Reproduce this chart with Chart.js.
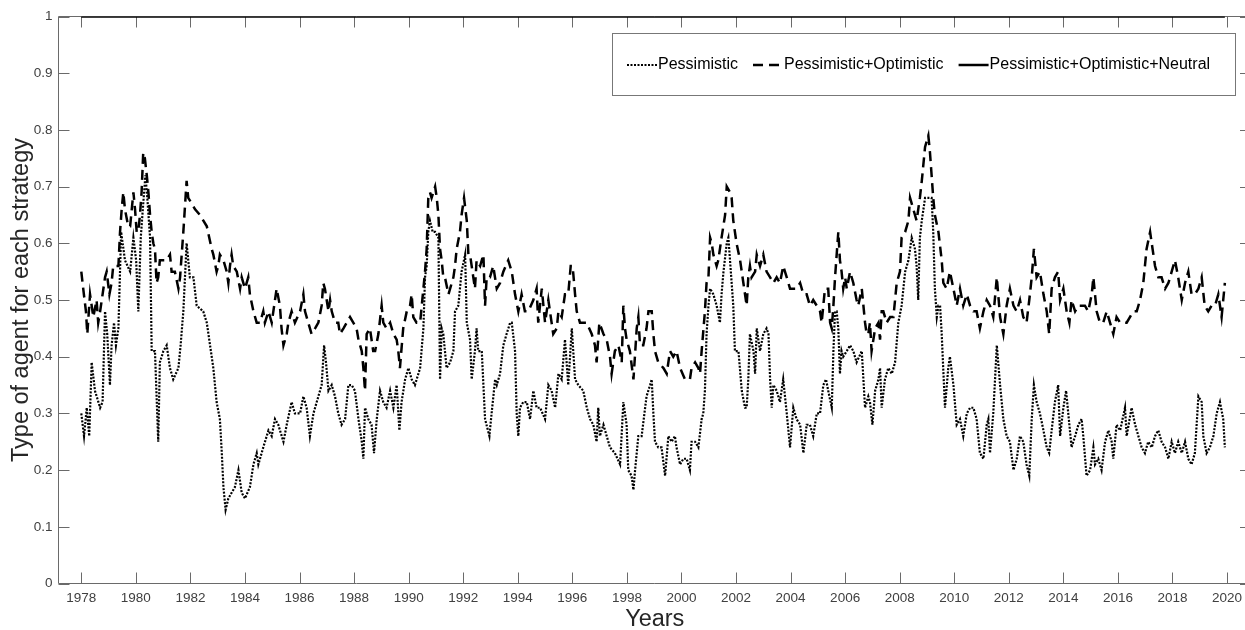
<!DOCTYPE html>
<html>
<head>
<meta charset="utf-8">
<title>Type of agent for each strategy</title>
<script src="https://cdn.jsdelivr.net/npm/chart.js@4.4.1/dist/chart.umd.min.js"></script>
<style>
  html, body { margin: 0; padding: 0; background: #fff; overflow: hidden; }
  canvas { display: block; }
</style>
</head>
<body>
<canvas id="agents" width="1251" height="630"></canvas>
<script>
// share of agents per strategy, decimal years on x
const pessYears = [
  1978.00,1978.10,1978.20,1978.29,1978.38,1978.50,1978.69,1978.78,1978.87,1978.95,
  1979.05,1979.11,1979.20,1979.27,1979.36,1979.46,1979.60,1979.79,1979.91,1980.01,
  1980.09,1980.18,1980.27,1980.35,1980.42,1980.52,1980.58,1980.70,1980.82,1980.88,
  1981.01,1981.13,1981.25,1981.37,1981.56,1981.64,1981.74,1981.86,1981.98,1982.11,
  1982.23,1982.47,1982.60,1982.72,1982.84,1982.96,1983.08,1983.15,1983.21,1983.29,
  1983.39,1983.51,1983.63,1983.76,1983.88,1984.00,1984.18,1984.31,1984.43,1984.49,
  1984.67,1984.86,1984.98,1985.10,1985.22,1985.41,1985.53,1985.71,1985.83,1986.02,
  1986.14,1986.26,1986.38,1986.51,1986.63,1986.81,1986.90,1986.97,1987.06,1987.18,
  1987.30,1987.42,1987.54,1987.67,1987.79,1987.91,1988.03,1988.16,1988.28,1988.34,
  1988.40,1988.52,1988.64,1988.73,1988.83,1988.95,1989.07,1989.19,1989.32,1989.44,
  1989.56,1989.66,1989.74,1989.87,1989.99,1990.11,1990.23,1990.42,1990.54,1990.60,
  1990.66,1990.72,1990.78,1990.88,1990.97,1991.09,1991.15,1991.21,1991.27,1991.39,
  1991.52,1991.64,1991.70,1991.82,1991.94,1992.07,1992.13,1992.25,1992.31,1992.43,
  1992.49,1992.55,1992.68,1992.80,1992.96,1993.04,1993.17,1993.23,1993.35,1993.47,
  1993.59,1993.72,1993.78,1993.90,1993.96,1994.02,1994.08,1994.20,1994.33,1994.45,
  1994.57,1994.69,1994.82,1995.00,1995.12,1995.24,1995.37,1995.49,1995.61,1995.73,
  1995.85,1995.98,1996.10,1996.22,1996.40,1996.53,1996.65,1996.77,1996.89,1996.95,
  1997.01,1997.14,1997.26,1997.38,1997.56,1997.75,1997.87,1997.99,1998.05,1998.17,
  1998.24,1998.30,1998.42,1998.54,1998.72,1998.85,1998.91,1998.97,1999.03,1999.15,
  1999.27,1999.40,1999.52,1999.64,1999.76,1999.82,1999.95,2000.07,2000.19,2000.31,
  2000.37,2000.50,2000.62,2000.74,2000.80,2000.86,2000.92,2000.99,2001.05,2001.17,
  2001.29,2001.41,2001.47,2001.54,2001.66,2001.72,2001.78,2001.90,2001.96,2002.09,
  2002.21,2002.33,2002.39,2002.45,2002.51,2002.64,2002.70,2002.76,2002.88,2003.00,
  2003.12,2003.19,2003.25,2003.31,2003.37,2003.49,2003.61,2003.73,2003.86,2003.98,
  2004.10,2004.22,2004.35,2004.47,2004.59,2004.71,2004.83,2004.96,2005.08,2005.20,
  2005.30,2005.38,2005.51,2005.57,2005.63,2005.69,2005.75,2005.81,2005.87,2005.93,
  2006.06,2006.18,2006.30,2006.42,2006.61,2006.67,2006.73,2006.85,2006.91,2007.00,
  2007.10,2007.22,2007.28,2007.34,2007.46,2007.58,2007.71,2007.83,2007.95,2008.07,
  2008.20,2008.32,2008.44,2008.56,2008.62,2008.68,2008.74,2008.81,2008.93,2009.05,
  2009.17,2009.23,2009.29,2009.36,2009.42,2009.48,2009.54,2009.66,2009.78,2009.84,
  2009.97,2010.09,2010.21,2010.33,2010.46,2010.58,2010.70,2010.82,2010.94,2011.07,
  2011.19,2011.25,2011.31,2011.43,2011.56,2011.68,2011.80,2011.92,2012.04,2012.17,
  2012.29,2012.41,2012.53,2012.65,2012.75,2012.84,2012.92,2013.02,2013.14,2013.27,
  2013.39,2013.48,2013.57,2013.69,2013.81,2013.88,2014.00,2014.10,2014.18,2014.30,
  2014.43,2014.55,2014.67,2014.73,2014.85,2014.98,2015.10,2015.16,2015.28,2015.40,
  2015.53,2015.65,2015.77,2015.83,2015.95,2016.08,2016.26,2016.32,2016.50,2016.63,
  2016.75,2016.87,2016.99,2017.11,2017.24,2017.36,2017.48,2017.60,2017.73,2017.85,
  2017.97,2018.09,2018.21,2018.34,2018.46,2018.58,2018.70,2018.82,2018.95,2019.07,
  2019.13,2019.25,2019.37,2019.50,2019.62,2019.74,2019.86,2019.92
];
const pessValues = [
  0.30,0.26,0.31,0.26,0.39,0.34,0.31,0.32,0.48,0.44,
  0.35,0.42,0.46,0.42,0.45,0.62,0.57,0.55,0.61,0.57,
  0.48,0.61,0.67,0.72,0.68,0.61,0.41,0.41,0.25,0.39,
  0.41,0.42,0.38,0.36,0.38,0.42,0.48,0.60,0.54,0.54,
  0.49,0.48,0.46,0.42,0.38,0.32,0.29,0.23,0.17,0.13,
  0.15,0.16,0.17,0.20,0.16,0.15,0.17,0.21,0.23,0.21,
  0.24,0.27,0.26,0.29,0.28,0.25,0.28,0.32,0.30,0.30,
  0.33,0.31,0.26,0.30,0.32,0.35,0.42,0.39,0.34,0.35,
  0.33,0.30,0.28,0.29,0.35,0.35,0.34,0.29,0.25,0.22,
  0.31,0.29,0.28,0.23,0.29,0.34,0.32,0.31,0.34,0.31,
  0.35,0.27,0.32,0.36,0.38,0.36,0.35,0.38,0.45,0.54,
  0.56,0.62,0.64,0.62,0.62,0.61,0.36,0.45,0.44,0.38,
  0.39,0.41,0.48,0.49,0.55,0.58,0.46,0.43,0.36,0.41,
  0.45,0.41,0.41,0.29,0.26,0.30,0.36,0.35,0.37,0.42,
  0.44,0.46,0.46,0.41,0.30,0.26,0.31,0.32,0.32,0.29,
  0.34,0.31,0.31,0.29,0.35,0.34,0.31,0.37,0.36,0.43,
  0.35,0.45,0.36,0.35,0.34,0.31,0.29,0.28,0.25,0.31,
  0.26,0.28,0.26,0.24,0.23,0.21,0.32,0.28,0.20,0.19,
  0.165,0.20,0.26,0.26,0.33,0.35,0.36,0.30,0.25,0.24,
  0.24,0.19,0.26,0.25,0.26,0.24,0.21,0.22,0.22,0.20,
  0.25,0.25,0.24,0.29,0.30,0.34,0.44,0.49,0.52,0.51,
  0.49,0.46,0.51,0.55,0.60,0.61,0.57,0.49,0.41,0.41,
  0.34,0.31,0.31,0.36,0.44,0.41,0.37,0.45,0.41,0.44,
  0.45,0.44,0.36,0.31,0.35,0.34,0.32,0.36,0.30,0.24,
  0.31,0.29,0.28,0.23,0.28,0.28,0.26,0.30,0.30,0.35,
  0.36,0.34,0.31,0.41,0.48,0.48,0.45,0.37,0.41,0.40,
  0.41,0.42,0.41,0.39,0.41,0.36,0.31,0.33,0.32,0.28,
  0.34,0.36,0.38,0.31,0.36,0.38,0.37,0.39,0.46,0.49,
  0.55,0.57,0.61,0.59,0.56,0.50,0.61,0.64,0.68,0.68,
  0.68,0.62,0.52,0.47,0.49,0.49,0.44,0.31,0.38,0.40,
  0.35,0.28,0.29,0.26,0.30,0.31,0.31,0.29,0.23,0.22,
  0.28,0.29,0.23,0.30,0.42,0.35,0.29,0.26,0.25,0.20,
  0.22,0.26,0.25,0.21,0.19,0.29,0.35,0.32,0.30,0.27,
  0.24,0.23,0.27,0.32,0.35,0.26,0.31,0.34,0.30,0.24,
  0.26,0.28,0.29,0.26,0.19,0.20,0.24,0.21,0.22,0.20,
  0.25,0.27,0.25,0.22,0.28,0.27,0.31,0.26,0.31,0.28,
  0.26,0.24,0.23,0.25,0.24,0.26,0.27,0.25,0.24,0.22,
  0.25,0.23,0.25,0.23,0.25,0.22,0.21,0.23,0.33,0.32,
  0.26,0.23,0.24,0.26,0.30,0.32,0.29,0.24
];

const pessOptYears = [
  1978.00,1978.07,1978.17,1978.22,1978.32,1978.38,1978.44,1978.56,1978.62,1978.69,
  1978.78,1978.87,1978.93,1979.03,1979.11,1979.17,1979.30,1979.36,1979.42,1979.48,
  1979.54,1979.60,1979.72,1979.79,1979.91,1979.97,1980.03,1980.09,1980.15,1980.21,
  1980.27,1980.33,1980.40,1980.46,1980.52,1980.58,1980.64,1980.70,1980.76,1980.82,
  1980.88,1981.01,1981.13,1981.25,1981.31,1981.43,1981.56,1981.62,1981.74,1981.86,
  1981.92,1982.05,1982.17,1982.35,1982.60,1982.78,1982.84,1982.96,1983.02,1983.08,
  1983.21,1983.33,1983.39,1983.45,1983.51,1983.57,1983.70,1983.82,1983.88,1984.00,
  1984.12,1984.18,1984.31,1984.43,1984.55,1984.67,1984.73,1984.86,1984.98,1985.10,
  1985.16,1985.28,1985.34,1985.41,1985.53,1985.59,1985.71,1985.83,1986.02,1986.14,
  1986.20,1986.32,1986.44,1986.57,1986.69,1986.81,1986.87,1986.93,1987.06,1987.12,
  1987.18,1987.30,1987.42,1987.48,1987.61,1987.73,1987.85,1987.97,1988.09,1988.16,
  1988.28,1988.34,1988.40,1988.46,1988.58,1988.70,1988.77,1988.89,1989.01,1989.07,
  1989.19,1989.32,1989.44,1989.56,1989.62,1989.68,1989.80,1989.93,1990.05,1990.11,
  1990.17,1990.29,1990.42,1990.54,1990.60,1990.66,1990.72,1990.78,1990.84,1990.97,
  1991.03,1991.09,1991.15,1991.21,1991.27,1991.33,1991.46,1991.64,1991.70,1991.76,
  1991.88,1991.94,1992.03,1992.13,1992.19,1992.25,1992.37,1992.43,1992.49,1992.62,
  1992.74,1992.80,1992.86,1992.98,1993.10,1993.23,1993.35,1993.47,1993.65,1993.78,
  1993.90,1994.02,1994.14,1994.26,1994.39,1994.57,1994.69,1994.75,1994.88,1995.00,
  1995.12,1995.24,1995.30,1995.43,1995.49,1995.61,1995.73,1995.85,1995.94,1996.01,
  1996.10,1996.16,1996.28,1996.40,1996.53,1996.71,1996.83,1996.89,1996.99,1997.14,
  1997.26,1997.38,1997.44,1997.56,1997.69,1997.81,1997.87,1997.93,1997.99,1998.11,
  1998.24,1998.36,1998.42,1998.48,1998.60,1998.72,1998.79,1998.91,1998.97,1999.03,
  1999.15,1999.34,1999.46,1999.58,1999.70,1999.82,1999.95,2000.13,2000.31,2000.37,
  2000.50,2000.62,2000.68,2000.74,2000.86,2000.92,2000.99,2001.05,2001.11,2001.17,
  2001.29,2001.35,2001.47,2001.60,2001.66,2001.78,2001.84,2001.90,2002.02,2002.15,
  2002.27,2002.39,2002.45,2002.51,2002.57,2002.70,2002.76,2002.88,2003.00,2003.12,
  2003.25,2003.37,2003.49,2003.61,2003.73,2003.86,2003.98,2004.10,2004.22,2004.35,
  2004.47,2004.59,2004.71,2004.83,2004.96,2005.08,2005.14,2005.26,2005.38,2005.45,
  2005.51,2005.57,2005.63,2005.69,2005.75,2005.81,2005.87,2005.93,2006.00,2006.06,
  2006.18,2006.30,2006.42,2006.48,2006.61,2006.73,2006.79,2006.85,2006.91,2006.97,
  2007.10,2007.22,2007.28,2007.34,2007.40,2007.52,2007.65,2007.77,2007.89,2008.01,
  2008.07,2008.20,2008.32,2008.38,2008.50,2008.62,2008.74,2008.81,2008.93,2009.05,
  2009.11,2009.17,2009.23,2009.29,2009.42,2009.54,2009.60,2009.72,2009.84,2009.97,
  2010.09,2010.21,2010.33,2010.46,2010.58,2010.70,2010.82,2010.94,2011.07,2011.19,
  2011.31,2011.43,2011.56,2011.68,2011.80,2011.92,2012.04,2012.17,2012.29,2012.41,
  2012.53,2012.65,2012.75,2012.84,2012.92,2013.02,2013.14,2013.27,2013.39,2013.48,
  2013.57,2013.69,2013.81,2013.88,2014.00,2014.12,2014.22,2014.30,2014.43,2014.55,
  2014.67,2014.79,2014.91,2015.04,2015.10,2015.22,2015.34,2015.46,2015.59,2015.71,
  2015.83,2015.95,2016.08,2016.20,2016.32,2016.44,2016.56,2016.69,2016.81,2016.93,
  2016.99,2017.05,2017.18,2017.27,2017.36,2017.48,2017.60,2017.73,2017.85,2017.97,
  2018.09,2018.21,2018.34,2018.46,2018.58,2018.70,2018.82,2018.95,2019.07,2019.18,
  2019.31,2019.43,2019.56,2019.68,2019.80,2019.92
];
const pessOptValues = [
  0.55,0.52,0.48,0.44,0.51,0.49,0.47,0.50,0.46,0.48,
  0.51,0.54,0.55,0.51,0.53,0.56,0.56,0.56,0.62,0.66,
  0.69,0.66,0.63,0.63,0.69,0.66,0.62,0.62,0.65,0.69,
  0.76,0.75,0.72,0.69,0.65,0.62,0.60,0.59,0.53,0.54,
  0.57,0.57,0.57,0.58,0.55,0.55,0.52,0.54,0.62,0.71,
  0.68,0.67,0.66,0.65,0.63,0.59,0.58,0.55,0.56,0.58,
  0.57,0.55,0.53,0.56,0.58,0.56,0.55,0.52,0.54,0.52,
  0.54,0.51,0.48,0.46,0.46,0.48,0.46,0.48,0.46,0.50,
  0.52,0.49,0.45,0.42,0.44,0.46,0.48,0.46,0.48,0.51,
  0.48,0.46,0.44,0.45,0.46,0.49,0.53,0.52,0.48,0.50,
  0.48,0.46,0.46,0.44,0.45,0.46,0.47,0.46,0.45,0.43,
  0.41,0.38,0.34,0.44,0.45,0.41,0.41,0.44,0.49,0.46,
  0.45,0.46,0.44,0.43,0.41,0.38,0.45,0.48,0.49,0.51,
  0.47,0.46,0.46,0.52,0.55,0.59,0.68,0.69,0.68,0.70,
  0.68,0.65,0.59,0.57,0.54,0.54,0.51,0.54,0.56,0.59,
  0.62,0.65,0.68,0.64,0.58,0.58,0.54,0.52,0.57,0.56,
  0.58,0.49,0.54,0.54,0.56,0.52,0.53,0.55,0.57,0.55,
  0.51,0.48,0.51,0.48,0.48,0.50,0.52,0.46,0.52,0.46,
  0.50,0.46,0.44,0.45,0.48,0.47,0.51,0.51,0.56,0.56,
  0.51,0.48,0.46,0.46,0.46,0.44,0.42,0.39,0.46,0.44,
  0.43,0.40,0.37,0.41,0.42,0.39,0.49,0.45,0.43,0.41,
  0.36,0.45,0.47,0.42,0.42,0.45,0.48,0.48,0.44,0.41,
  0.39,0.38,0.37,0.41,0.40,0.41,0.38,0.36,0.36,0.38,
  0.39,0.38,0.37,0.41,0.48,0.53,0.54,0.61,0.60,0.58,
  0.56,0.57,0.61,0.65,0.70,0.69,0.68,0.64,0.60,0.57,
  0.53,0.49,0.54,0.56,0.54,0.55,0.58,0.56,0.58,0.55,
  0.54,0.53,0.54,0.53,0.56,0.54,0.52,0.52,0.52,0.53,
  0.51,0.51,0.49,0.50,0.49,0.48,0.46,0.52,0.52,0.46,
  0.45,0.49,0.54,0.58,0.62,0.57,0.55,0.52,0.54,0.52,
  0.55,0.53,0.50,0.49,0.52,0.46,0.44,0.44,0.46,0.41,
  0.45,0.46,0.43,0.48,0.48,0.46,0.47,0.47,0.53,0.55,
  0.61,0.62,0.64,0.68,0.66,0.64,0.68,0.71,0.77,0.79,
  0.76,0.72,0.68,0.65,0.62,0.57,0.53,0.52,0.55,0.52,
  0.49,0.52,0.49,0.51,0.49,0.48,0.48,0.45,0.48,0.50,
  0.49,0.47,0.54,0.47,0.44,0.49,0.52,0.49,0.48,0.50,
  0.47,0.46,0.50,0.54,0.59,0.54,0.55,0.51,0.48,0.44,
  0.52,0.54,0.55,0.50,0.52,0.48,0.46,0.50,0.48,0.49,
  0.49,0.49,0.48,0.51,0.54,0.48,0.46,0.46,0.48,0.46,
  0.44,0.47,0.46,0.46,0.46,0.47,0.48,0.48,0.50,0.53,
  0.56,0.59,0.62,0.59,0.56,0.54,0.54,0.52,0.53,0.55,
  0.57,0.54,0.50,0.53,0.55,0.51,0.51,0.52,0.54,0.49,
  0.48,0.49,0.49,0.51,0.47,0.53
];

// the three groups together always cover every agent
const allYears = [1978.00, 2019.92];
const allValues = [1, 1];

const seriesLabels = ['Pessimistic', 'Pessimistic+Optimistic', 'Pessimistic+Optimistic+Neutral'];
const xTickYears = [1978,1980,1982,1984,1986,1988,1990,1992,1994,1996,1998,2000,
                    2002,2004,2006,2008,2010,2012,2014,2016,2018,2020];
const yTickValues = [0, 0.1, 0.2, 0.3, 0.4, 0.5, 0.6, 0.7, 0.8, 0.9, 1];
const yTickLabels = ['0', '0.1', '0.2', '0.3', '0.4', '0.5', '0.6', '0.7', '0.8', '0.9', '1'];

const toPoints = (xs, ys) => xs.map((x, i) => ({ x, y: ys[i] }));

const FONT = '"Liberation Sans", Arial, Helvetica, sans-serif';
Chart.defaults.font.family = FONT;

// box around the axes with inward ticks on all four sides
const axesBox = {
  id: 'axesBox',
  beforeDatasetsDraw(chart) {
    const { ctx, chartArea: a, scales: { x, y } } = chart;
    const len = 11;
    ctx.save();
    ctx.strokeStyle = '#6a6a6a';
    ctx.lineWidth = 1;
    ctx.beginPath();
    ctx.rect(a.left, a.top, a.right - a.left, a.bottom - a.top);
    xTickYears.forEach(v => {
      const px = Math.round(x.getPixelForValue(v)) + 0.5;
      ctx.moveTo(px, a.bottom); ctx.lineTo(px, a.bottom - len);
      ctx.moveTo(px, a.top);    ctx.lineTo(px, a.top + len);
    });
    yTickValues.forEach(v => {
      const py = Math.round(y.getPixelForValue(v)) + 0.5;
      ctx.moveTo(a.left, py);  ctx.lineTo(a.left + len, py);
      ctx.moveTo(a.right, py); ctx.lineTo(a.right - len, py);
    });
    ctx.stroke();
    ctx.restore();
  }
};

// horizontal legend in a framed box, top right of the axes
const boxedLegend = {
  id: 'boxedLegend',
  afterDatasetsDraw(chart) {
    const ctx = chart.ctx;
    const box = { left: 612.5, top: 33.5, right: 1235.5, bottom: 95.5 };
    const midY = 65;
    ctx.save();
    ctx.fillStyle = '#fff';
    ctx.fillRect(box.left, box.top, box.right - box.left, box.bottom - box.top);
    ctx.strokeStyle = '#777';
    ctx.lineWidth = 1;
    ctx.strokeRect(box.left, box.top, box.right - box.left, box.bottom - box.top);
    ctx.font = '16px ' + FONT;
    ctx.textBaseline = 'middle';
    let x = 627;
    chart.data.datasets.forEach(ds => {
      ctx.strokeStyle = ds.borderColor;
      ctx.lineWidth = ds.borderWidth;
      ctx.setLineDash(ds.borderDash || []);
      ctx.beginPath();
      ctx.moveTo(x, midY);
      ctx.lineTo(x + 30, midY);
      ctx.stroke();
      ctx.setLineDash([]);
      ctx.fillStyle = '#000';
      ctx.fillText(ds.label, x + 31, midY);
      x += 31 + ctx.measureText(ds.label).width + 15;
    });
    ctx.restore();
  }
};

new Chart(document.getElementById('agents'), {
  type: 'line',
  data: {
    datasets: [
      {
        label: seriesLabels[0],
        data: toPoints(pessYears, pessValues),
        borderColor: '#000',
        borderWidth: 2.2,
        borderDash: [2, 1.5],
        pointRadius: 0,
        tension: 0,
        fill: false
      },
      {
        label: seriesLabels[1],
        data: toPoints(pessOptYears, pessOptValues),
        borderColor: '#000',
        borderWidth: 2.5,
        borderDash: [10, 6],
        pointRadius: 0,
        tension: 0,
        fill: false
      },
      {
        label: seriesLabels[2],
        data: toPoints(allYears, allValues),
        borderColor: '#000',
        borderWidth: 2.5,
        pointRadius: 0,
        tension: 0,
        fill: false
      }
    ]
  },
  options: {
    responsive: false,
    animation: false,
    devicePixelRatio: 1,
    layout: { padding: { top: 16.5, left: 0, right: 0, bottom: 0 } },
    plugins: {
      legend: { display: false },
      tooltip: { enabled: false }
    },
    scales: {
      x: {
        type: 'linear',
        min: 1977.164,
        max: 2020.878,
        afterFit: s => { s.height = 46.5; },
        afterBuildTicks: s => { s.ticks = xTickYears.map(v => ({ value: v })); },
        grid: { display: false, drawTicks: false },
        border: { display: false },
        ticks: {
          autoSkip: false,
          maxRotation: 0,
          padding: 7,
          color: '#404040',
          font: { size: 13.5 },
          callback: v => String(v)
        },
        title: {
          display: true,
          text: 'Years',
          color: '#262626',
          font: { size: 23.5 },
          padding: { top: 0, bottom: -4 }
        }
      },
      y: {
        min: 0,
        max: 1,
        afterFit: s => { s.width = 58.5; },
        afterBuildTicks: s => { s.ticks = yTickValues.map(v => ({ value: v })); },
        grid: { display: false, drawTicks: false },
        border: { display: false },
        ticks: {
          padding: 6,
          color: '#404040',
          font: { size: 13.5 },
          callback: (v, i) => yTickLabels[i]
        },
        title: {
          display: true,
          text: 'Type of agent for each strategy',
          color: '#262626',
          font: { size: 23.5 },
          padding: { top: 7, bottom: 0 }
        }
      }
    }
  },
  plugins: [axesBox, boxedLegend]
});
</script>
</body>
</html>
